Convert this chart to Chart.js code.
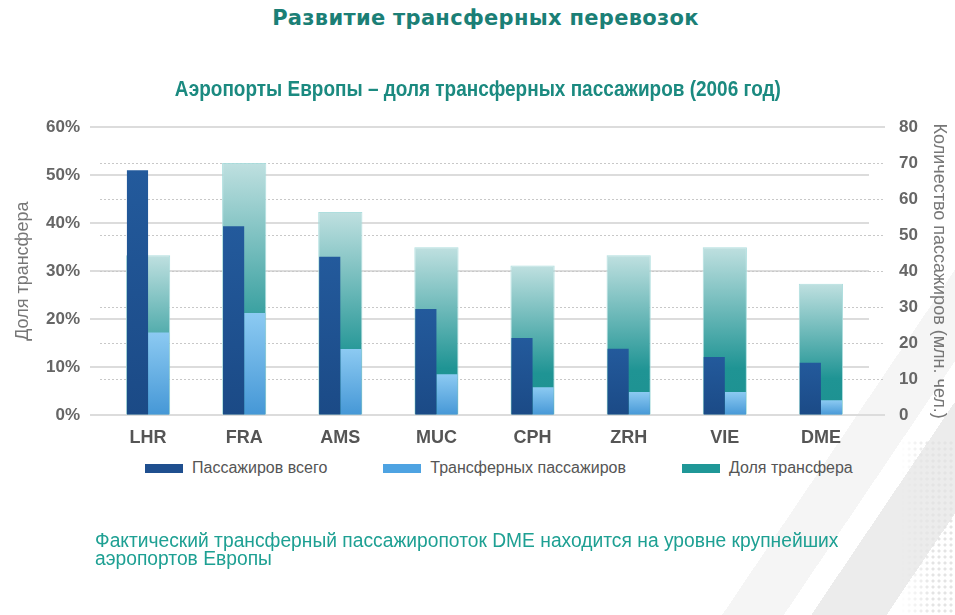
<!DOCTYPE html>
<html lang="ru">
<head>
<meta charset="utf-8">
<title>Развитие трансферных перевозок</title>
<script src="https://cdn.jsdelivr.net/npm/chart.js@4.4.1/dist/chart.umd.min.js"></script>
<style>
  html, body { margin: 0; padding: 0; }
  body {
    width: 955px; height: 615px; position: relative; overflow: hidden;
    font-family: "Liberation Sans", Arial, sans-serif;
    background:
      linear-gradient(124deg, transparent 83%, #f5f5f5 83%, #f5f5f5 87.5%, transparent 87.5%, transparent 89.5%, #ececec 89.5%, #ececec 95%, transparent 95%),
      #fff;
  }
  #dots {
    position: absolute; right: 0; top: 440px; width: 55px; height: 175px;
    background: radial-gradient(circle, #e4e4e4 1.3px, transparent 1.8px) 0 0 / 6px 6px;
    -webkit-mask-image: linear-gradient(90deg, transparent, #000 60%);
  }
  #title {
    position: absolute; top: 6px; left: 8px; width: 955px; text-align: center;
    font-family: "DejaVu Sans", sans-serif;
    font-weight: bold; font-size: 21px; letter-spacing: 0.3px; color: #1b7f76;
  }
  #subtitle {
    position: absolute; top: 76px; left: 0; width: 955px; text-align: center;
    font-weight: bold; font-size: 22px; color: #1b8a80;
    transform: scaleX(0.862); transform-origin: 480px 0;
  }
  #wrap { position: absolute; left: 0; top: 0; width: 955px; height: 457px; }
  #legend {
    position: absolute; top: 459px; left: 145px; display: flex; gap: 56px;
    font-size: 16px; color: #555;
  }
  #legend span.item { display: flex; align-items: center; }
  #legend i { display: inline-block; width: 38px; height: 9px; margin-right: 9px; }
  #note {
    position: absolute; top: 531px; left: 95px; width: 820px;
    font-size: 20px; line-height: 18px; color: #1ea093;
    transform: scaleX(0.962); transform-origin: 0 0;
  }
</style>
</head>
<body>
<div id="dots"></div>
<div id="title">Развитие трансферных перевозок</div>
<div id="subtitle">Аэропорты Европы – доля трансферных пассажиров (2006 год)</div>
<div id="wrap"><canvas id="chart"></canvas></div>
<div id="legend"></div>
<div id="note">Фактический трансферный пассажиропоток DME находится на уровне крупнейших<br>аэропортов Европы</div>
<script>
var airports = ['LHR', 'FRA', 'AMS', 'MUC', 'CPH', 'ZRH', 'VIE', 'DME'];
var passengersTotal = [68, 52.5, 44, 29.5, 21.5, 18.5, 16.2, 14.6];      // млн. чел.
var transferPassengers = [23, 28.4, 18.4, 11.4, 7.8, 6.5, 6.5, 4.2];     // млн. чел.
var transferShare = [33.3, 52.5, 42.3, 35, 31.2, 33.3, 35, 27.4];        // %
var shareTicks = [0, 10, 20, 30, 40, 50, 60];
var paxTicks = [0, 10, 20, 30, 40, 50, 60, 70, 80];

var sans = '"Liberation Sans", Arial, sans-serif';

// vertical gradient for each bar, from its top down to the axis
function barGradient(stops, solid) {
    return function (ctx) {
        var chart = ctx.chart;
        if (ctx.type !== 'data' || !chart.chartArea) return solid;
        var ds = chart.data.datasets[ctx.datasetIndex];
        var scale = chart.scales[ds.yAxisID];
        var top = scale.getPixelForValue(ctx.raw);
        var bottom = scale.getPixelForValue(0);
        if (!isFinite(top) || bottom - top < 1) return solid;
        var g = chart.ctx.createLinearGradient(0, top, 0, bottom);
        stops.forEach(function (s) { g.addColorStop(s[0], s[1]); });
        return g;
    };
}

// right axis: top and bottom lines coincide with the solid left-axis lines
function isEdge(ctx) {
    return ctx.tick && (ctx.tick.value === 0 || ctx.tick.value === 80);
}

var ctx = document.getElementById('chart').getContext('2d');
var chart = new Chart(ctx, {
    type: 'bar',
    data: {
        labels: airports,
        datasets: [{
            label: 'Пассажиров всего',
            data: passengersTotal,
            yAxisID: 'y2',
            order: 0,
            legendColor: '#1f4f8f',
            backgroundColor: barGradient([[0, '#235a9c'], [1, '#1b4a86']], '#1f4f8f'),
            categoryPercentage: 0.44,
            barPercentage: 1
        }, {
            label: 'Трансферных пассажиров',
            data: transferPassengers,
            yAxisID: 'y2',
            order: 0,
            legendColor: '#4ea3e2',
            backgroundColor: barGradient([[0, '#8ccaf2'], [1, '#4597d6']], '#4ea3e2'),
            categoryPercentage: 0.44,
            barPercentage: 1
        }, {
            label: 'Доля трансфера',
            data: transferShare,
            yAxisID: 'y',
            order: 1,
            grouped: false,
            legendColor: '#1f9797',
            backgroundColor: barGradient([[0, '#bfe0e0'], [0.72, '#1f9494'], [1, '#1d9191']], '#1f9797'),
            borderColor: 'rgba(165, 218, 218, 0.9)',
            borderWidth: 1,
            categoryPercentage: 1,
            barPercentage: 0.46
        }]
    },
    options: {
        responsive: true,
        maintainAspectRatio: false,
        animation: false,
        layout: { padding: { top: 127, left: 10, right: 5, bottom: 4 } },
        plugins: {
            legend: { display: false },
            tooltip: { enabled: false }
        },
        scales: {
            x: {
                grid: { display: false },
                border: { display: false },
                ticks: { color: '#555', padding: 4, font: { family: sans, size: 18, weight: 'bold' } }
            },
            y: {
                position: 'left',
                min: 0, max: 60,
                afterBuildTicks: function (scale) { scale.ticks = shareTicks.map(function (v) { return { value: v }; }); },
                afterFit: function (scale) { scale.width = 90; },
                border: { display: false },
                grid: { color: '#dcdcdc', lineWidth: 2, tickLength: 10 },
                ticks: {
                    color: '#666', padding: 10,
                    font: { family: sans, size: 17, weight: 'bold' },
                    callback: function (v) { return v + '%'; }
                },
                title: {
                    display: true, text: 'Доля трансфера', color: '#777',
                    font: { family: sans, size: 18 }, padding: { top: 2, bottom: 0 }
                }
            },
            y2: {
                position: 'right',
                min: 0, max: 80,
                afterBuildTicks: function (scale) { scale.ticks = paxTicks.map(function (v) { return { value: v }; }); },
                afterFit: function (scale) { scale.width = 81; },
                border: { display: false, dash: [2, 2] },
                grid: {
                    color: function (c) { return isEdge(c) ? 'rgba(0,0,0,0)' : '#c8c8c8'; },
                    lineWidth: function (c) { return isEdge(c) ? 2 : 1; },
                    tickColor: function (c) { return isEdge(c) ? '#dcdcdc' : '#c8c8c8'; },
                    tickBorderDash: function (c) { return isEdge(c) ? [] : [2, 2]; },
                    tickLength: 16
                },
                ticks: {
                    color: '#666', padding: 14,
                    font: { family: sans, size: 17, weight: 'bold' }
                },
                title: {
                    display: true, text: 'Количество пассажиров (млн. чел.)', color: '#777',
                    font: { family: sans, size: 18 }, padding: { top: 0, bottom: 2 }
                }
            }
        }
    }
});

// legend built from the datasets
var legend = document.getElementById('legend');
chart.data.datasets.forEach(function (ds) {
    var item = document.createElement('span');
    item.className = 'item';
    var box = document.createElement('i');
    box.style.background = ds.legendColor;
    item.appendChild(box);
    item.appendChild(document.createTextNode(ds.label));
    legend.appendChild(item);
});
</script>
</body>
</html>
